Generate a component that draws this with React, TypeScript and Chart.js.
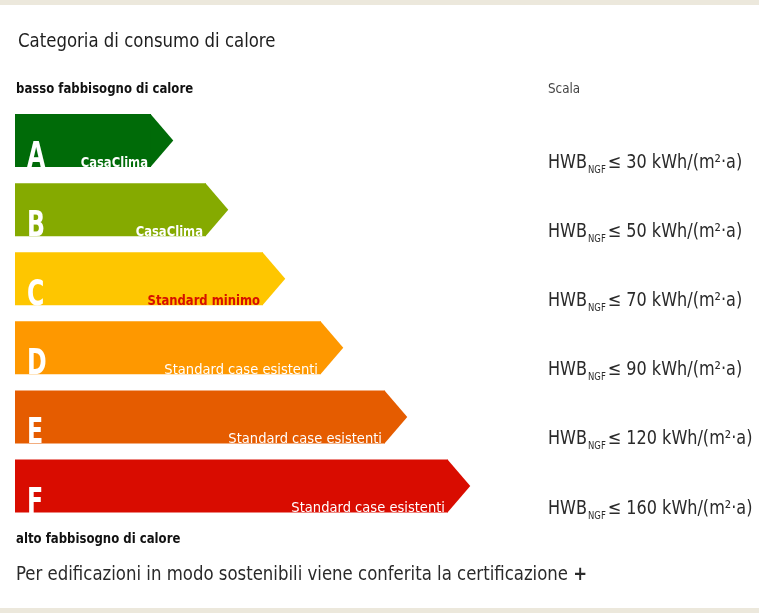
import React, { useEffect, useRef } from "react";
import { Chart, registerables } from "chart.js";

Chart.register(...registerables);

const categories = ["A", "B", "C", "D", "E", "F"];
// bar body length (x-scale units)
const barLengths = [136, 191, 248, 306, 370, 433];
const thresholds = [30, 50, 70, 90, 120, 160];
const subLabels = [
  "CasaClima",
  "CasaClima",
  "Standard minimo",
  "Standard case esistenti",
  "Standard case esistenti",
  "Standard case esistenti",
];
const barColors = ["#006b08", "#85aa00", "#fec600", "#fe9800", "#e55c00", "#d90c00"];
const subLabelColors = ["#ffffff", "#ffffff", "#d60f00", "#ffffff", "#ffffff", "#ffffff"];

const titleText = "Categoria di consumo di calore";
const topLabel = "basso fabbisogno di calore";
const bottomLabel = "alto fabbisogno di calore";
const scaleLabel = "Scala";
const footerText = "Per edificazioni in modo sostenibili viene conferita la certificazione";

const NARROW = '"Liberation Sans Narrow", "DejaVu Sans Condensed", "Liberation Sans", sans-serif';

function drawText(ctx: CanvasRenderingContext2D, text: string, x: number, y: number, sx: number) {
  ctx.save();
  ctx.translate(x, y);
  ctx.scale(sx, 1);
  ctx.fillText(text, 0, 0);
  ctx.restore();
}

const energyPlugin = {
  id: "energyPlugin",
  beforeDraw(chart: any) {
    const { ctx, width, height } = chart;
    ctx.save();
    ctx.fillStyle = "#ffffff";
    ctx.fillRect(0, 0, width, height);
    ctx.fillStyle = "#ece8dc";
    ctx.fillRect(0, 0, width, 5);
    ctx.fillRect(0, height - 5, width, 5);

    ctx.textBaseline = "alphabetic";
    ctx.textAlign = "left";
    ctx.fillStyle = "#1e1e1e";
    ctx.font = `20px ${NARROW}`;
    drawText(ctx, titleText, 18, 47, 0.92);

    ctx.font = `bold 14px ${NARROW}`;
    ctx.fillStyle = "#111111";
    drawText(ctx, topLabel, 16, 93, 0.93);
    drawText(ctx, bottomLabel, 16, 543, 0.93);

    ctx.font = `14px ${NARROW}`;
    ctx.fillStyle = "#444444";
    drawText(ctx, scaleLabel, 548, 93, 0.95);

    ctx.font = `20px ${NARROW}`;
    ctx.fillStyle = "#2a2a2a";
    const fs = 0.92;
    drawText(ctx, footerText, 16, 580, fs);
    const w = ctx.measureText(footerText + " ").width * fs;
    ctx.font = `bold 20px ${NARROW}`;
    drawText(ctx, "+", 16 + w, 580, fs);
    ctx.restore();
  },
  afterDatasetsDraw(chart: any) {
    const { ctx } = chart;
    const meta = chart.getDatasetMeta(0);
    ctx.save();
    meta.data.forEach((el: any, i: number) => {
      const h = el.height;
      const top = el.y - h / 2;
      const bottom = el.y + h / 2;
      const tip = h * 0.42;
      // arrow head
      ctx.fillStyle = barColors[i];
      ctx.beginPath();
      ctx.moveTo(el.x - 0.5, top);
      ctx.lineTo(el.x + tip, el.y);
      ctx.lineTo(el.x - 0.5, bottom);
      ctx.closePath();
      ctx.fill();

      // class letter
      ctx.fillStyle = "#ffffff";
      ctx.textAlign = "left";
      ctx.textBaseline = "alphabetic";
      ctx.font = `bold 36px ${NARROW}`;
      drawText(ctx, categories[i], el.base + 12, bottom, 0.73);

      // sub label
      ctx.textAlign = "right";
      ctx.fillStyle = subLabelColors[i];
      const isBold = i < 3;
      ctx.font = `${isBold ? "bold " : ""}14px ${NARROW}`;
      drawText(ctx, subLabels[i], el.x - 3, bottom - 0.5, isBold ? 0.92 : 1.04);

      // scale label on the right
      ctx.textAlign = "left";
      ctx.fillStyle = "#2a2a2a";
      const s = 0.94;
      let x = 548;
      const base = bottom + 1;
      ctx.font = `19px ${NARROW}`;
      drawText(ctx, "HWB", x, base, s);
      x += ctx.measureText("HWB").width * s + 1;
      ctx.font = `10px ${NARROW}`;
      drawText(ctx, "NGF", x, base + 5, s);
      x += ctx.measureText("NGF").width * s + 2;
      ctx.font = `19px ${NARROW}`;
      drawText(ctx, `≤ ${thresholds[i]} kWh/(m²·a)`, x, base, s);
    });
    ctx.restore();
  },
};

export default function App() {
  const canvasRef = useRef<HTMLCanvasElement | null>(null);

  useEffect(() => {
    if (!canvasRef.current) return;
    const chart = new Chart(canvasRef.current, {
      type: "bar",
      data: {
        labels: categories,
        datasets: [
          {
            data: barLengths,
            backgroundColor: barColors,
            borderWidth: 0,
            categoryPercentage: 1,
            barPercentage: 0.767,
          },
        ],
      },
      options: {
        indexAxis: "y",
        animation: false,
        responsive: false,
        maintainAspectRatio: false,
        layout: { padding: { left: 15, right: 144, top: 106, bottom: 92.4 } },
        scales: {
          x: { display: false, min: 0, max: 600 },
          y: { display: false },
        },
        plugins: {
          legend: { display: false },
          tooltip: { enabled: false },
          title: { display: false },
        },
      },
      plugins: [energyPlugin],
    });
    return () => chart.destroy();
  }, []);

  return (
    <div style={{ position: "absolute", left: 0, top: 0, width: 759, height: 613, background: "#fff" }}>
      <canvas ref={canvasRef} width={759} height={613} style={{ display: "block", width: 759, height: 613 }} />
    </div>
  );
}
